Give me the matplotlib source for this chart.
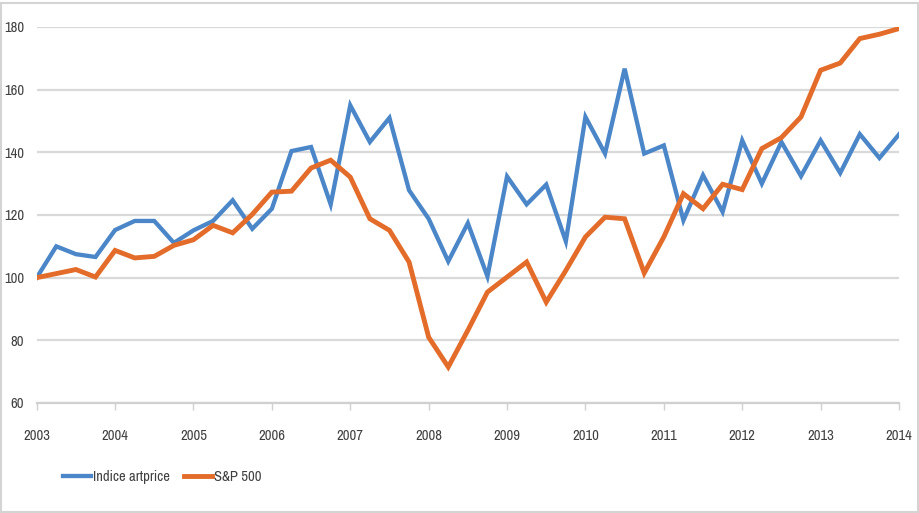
import matplotlib
matplotlib.use("Agg")
import matplotlib.pyplot as plt
from matplotlib.patches import Rectangle
from matplotlib import font_manager as fm

narrow = None
for f in fm.fontManager.ttflist:
    if ('Narrow' in f.name or 'Condensed' in f.name) and f.style == 'normal':
        narrow = f.name
        break
fams = ([narrow] if narrow else []) + ['Liberation Sans', 'DejaVu Sans']
plt.rcParams['font.family'] = fams
fs = 10.5 if narrow else 9.5

years = [str(y) for y in range(2003, 2015)]
artprice = [100, 110, 107.5, 106.6, 115.2, 118.1, 118.1, 111.1, 115.1, 118.1,
            124.7, 115.6, 122, 140.4, 141.7, 123.4, 155, 143.3, 151, 127.9,
            118.8, 105.2, 117.4, 100.4, 132.3, 123.4, 129.7, 111.6, 151.3, 139.6,
            166.7, 139.6, 142.2, 118.3, 132.7, 121, 143.8, 130, 143.3, 132.4,
            143.8, 133.4, 145.8, 138.2, 145.7]
sp500 = [100, 101.3, 102.6, 100.2, 108.7, 106.3, 106.8, 110.3, 112.1, 116.7,
         114.3, 120.2, 127.3, 127.6, 135, 137.5, 132.1, 118.8, 115.1, 105,
         81, 71.5, 83.2, 95.4, 100.2, 105, 92.2, 102.3, 113, 119.3,
         118.8, 101.5, 113, 126.8, 122, 129.8, 128.1, 141.2, 144.7, 151.3,
         166.2, 168.5, 176.3, 177.7, 179.5]
labels = ['Indice artprice', 'S&P 500']

fig = plt.figure(figsize=(9.2, 5.13), dpi=100)
ax = fig.add_axes([36.7/920, 1-403/513, (899-36.7)/920, (403-27)/513])

x = list(range(len(artprice)))
ax.plot(x, artprice, color='#4a86c8', lw=3.1, label=labels[0], solid_joinstyle='miter', zorder=3)
ax.plot(x, sp500, color='#e46c2a', lw=3.5, label=labels[1], solid_joinstyle='miter', zorder=3)

ax.set_xlim(0, 44)
ax.set_ylim(60, 180)
ax.set_yticks(range(60, 181, 20))
ax.set_xticks(range(0, 45, 4))
ax.set_xticklabels(years)
ax.yaxis.grid(True, color='#d9d9d9', lw=1.6)
ax.set_axisbelow(True)
for s in ['top', 'right', 'left']:
    ax.spines[s].set_visible(False)
ax.spines['bottom'].set_color('#d0d0d0')
ax.spines['bottom'].set_linewidth(1.6)
ax.tick_params(axis='y', length=0, pad=9, labelsize=fs, labelcolor='#404040')
ax.tick_params(axis='x', length=5, width=1, color='#d0d0d0', direction='out',
               pad=14, labelsize=fs, labelcolor='#404040')

fig.legend(loc='center left', bbox_to_anchor=(50/920, 1-477/513), frameon=False,
           ncol=2, fontsize=fs, handlelength=1.9, handletextpad=0.15,
           columnspacing=1.0, labelcolor='#404040')

fig.patches.append(Rectangle((1.5/920, 1.5/513), 1-3.5/920, 1-4/513, transform=fig.transFigure,
                             fill=False, edgecolor='#d4d4d4', lw=1.5))

fig.savefig('out.png', dpi=100)
